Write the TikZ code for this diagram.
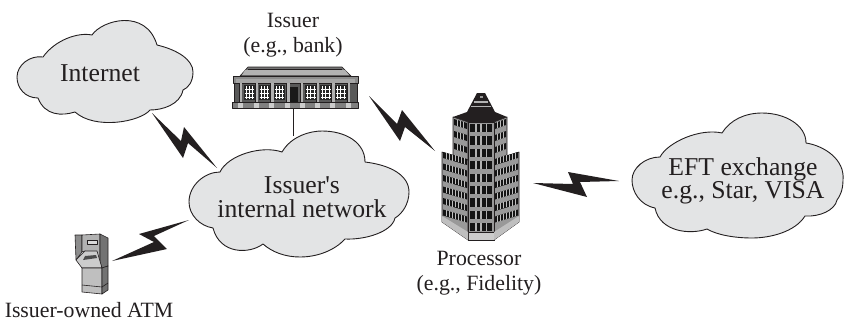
\documentclass[tikz,border=0pt]{standalone}
\usepackage{fontspec}
\setmainfont{Liberation Serif}
\definecolor{cloudgray}{HTML}{E3E4E5}
\definecolor{inkblack}{HTML}{231F20}
\tikzset{
  cloudshape/.style={draw=inkblack,fill=cloudgray,line width=0.9pt,line join=round},
  boltshape/.style={fill=inkblack,draw=none},
  biglabel/.style={text=inkblack,align=center,inner sep=0pt,font=\fontsize{25.7}{23.5}\selectfont},
  smalllabel/.style={text=inkblack,align=center,inner sep=0pt,font=\fontsize{21.8}{25}\selectfont},
  iconline/.style={draw=inkblack,line width=0.6pt,line join=round},
  link/.style={draw=inkblack,line width=0.8pt}
}
\begin{document}
\begin{tikzpicture}[x=1pt,y=-1pt]
\useasboundingbox (0,0) rectangle (846,324);
% line from bank to internal network
\coordinate (bankbase) at (293,106);
\coordinate (netedge) at (293,136);
\draw[link] (bankbase) -- (netedge);
% clouds
\draw[cloudshape] (43,57) .. controls (55,40) and (78,32) .. (92,35)
  .. controls (102,20) and (146,8) .. (157,45)
  .. controls (178,50) and (193,60) .. (193,72)
  .. controls (193,82) and (188,88) .. (183,90)
  .. controls (180,105) and (162,110) .. (150,110)
  .. controls (140,122) and (95,130) .. (75,112)
  .. controls (62,116) and (45,116) .. (38,98)
  .. controls (25,98) and (17,88) .. (17,77)
  .. controls (17,65) and (30,55) .. (43,57) -- cycle;
\draw[cloudshape] (220,172) .. controls (228,155) and (262,145) .. (282,152)
  .. controls (292,135) and (312,131) .. (322,131)
  .. controls (345,131) and (365,142) .. (365,162)
  .. controls (390,165) and (409,175) .. (409,192)
  .. controls (409,204) and (402,214) .. (395,218)
  .. controls (392,232) and (365,240) .. (345,239)
  .. controls (335,250) and (318,257) .. (300,257)
  .. controls (285,257) and (272,252) .. (263,244)
  .. controls (250,254) and (220,255) .. (213,228)
  .. controls (200,226) and (189,215) .. (189,202)
  .. controls (189,185) and (205,172) .. (220,172) -- cycle;
\draw[cloudshape] (660,157) .. controls (668,142) and (700,128) .. (722,133)
  .. controls (730,120) and (745,113) .. (762,113)
  .. controls (785,113) and (806,125) .. (806,143)
  .. controls (825,146) and (845,160) .. (843,180)
  .. controls (843,190) and (840,196) .. (837,200)
  .. controls (835,210) and (820,217) .. (805,216)
  .. controls (795,232) and (770,238) .. (752,238)
  .. controls (735,238) and (717,235) .. (707,229)
  .. controls (690,235) and (660,232) .. (655,208)
  .. controls (640,205) and (632,192) .. (632,180)
  .. controls (632,168) and (645,157) .. (660,157) -- cycle;
% lightning bolts
\fill[boltshape] (152,113) -- (181,141) -- (184,127) -- (217,168) -- (188,143) -- (183,158) -- cycle;
\fill[boltshape] (369,96) -- (397,124) -- (402,110) -- (435,151) -- (405,127) -- (400,141) -- cycle;
\fill[boltshape] (112,261) -- (154,242) -- (139,234) -- (189,220) -- (154,236) -- (167,249) -- cycle;
\fill[boltshape] (533,183) -- (573,184) -- (568,172) -- (619,181) -- (580,182) -- (587,197) -- cycle;
% bank
\fill[black!55,iconline] (248,67) -- (342,67) -- (351,76) -- (240,76) -- cycle;
\fill[black!30] (245,70) -- (345,70) -- (349,75) -- (242,75) -- cycle;
\draw[iconline] (248,69) -- (342,69);
\fill[black!45,iconline] (233,76) rectangle (358,83);
\fill[black!65,iconline] (234,83) rectangle (357,103);
\fill[black!35] (236,79) rectangle (355,83);
\foreach \wx in {243.5,258.5,273.5,305,320,335}{
  \fill[black!85] (\wx,85) rectangle ++(11.5,15);
  \foreach \gx in {2.5,5.7,8.9}{\draw[white,line width=0.7pt] (\wx+\gx,86) -- (\wx+\gx,99);}
  \foreach \gy in {89,93,97}{\draw[white,line width=0.7pt] (\wx+1,\gy) -- (\wx+10.5,\gy);}
}
\fill[black!90] (290,87) rectangle (298,103);
\foreach \px in {239,255,270.5,286.5,300,316,331.5,347}{
  \fill[black!30] (\px,83) rectangle ++(3,20);
  \draw[inkblack,line width=0.4pt] (\px,83) -- ++(0,20);
}
\fill[black!50,iconline] (232,102) rectangle (358,108);
\foreach \px in {238,253.5,269,285,299.5,315,330,346}{
  \fill[black!20] (\px,102.5) rectangle ++(5,5);
}
% tower
\fill[black!40,iconline] (442,152) -- (468,160) -- (468,240) -- (442,222) -- cycle;
\fill[black!40,iconline] (494,160) -- (519,152) -- (519,222) -- (494,240) -- cycle;
\fill[black!40,iconline] (453,117) -- (468,122) -- (468,160) -- (453,155) -- cycle;
\fill[black!40,iconline] (507,117) -- (494,122) -- (494,160) -- (507,155) -- cycle;
\fill[black!40,iconline] (468,122) rectangle (494,240);
\fill[black!20,iconline] (468,232) -- (494,232) -- (494,240) -- (468,240) -- cycle;
\fill[black!25] (442,216) -- (468,232) -- (468,240) -- (442,222) -- cycle;
\fill[black!25] (519,216) -- (494,232) -- (494,240) -- (519,222) -- cycle;
\foreach \k in {0,...,8}{
  \pgfmathsetmacro{\ry}{124+12.4*\k}
  \fill[black!92] (470,\ry) rectangle (492,\ry+8.2);
  \foreach \gx in {475,480.3,485.6}{\fill[black!30] (\gx,\ry) rectangle ++(1.6,8.2);}
}
% side window rows
\foreach \k in {0,...,5}{
  \pgfmathsetmacro{\ry}{152+11.5*\k}
  \fill[black!92] (443,\ry) -- (467,\ry+7) -- (467,\ry+13) -- (443,\ry+6) -- cycle;
  \fill[black!92] (518,\ry) -- (495,\ry+7) -- (495,\ry+13) -- (518,\ry+6) -- cycle;
  \foreach \d in {3,6,...,21}{
    \draw[black!25,line width=0.8pt] (443+\d,\ry+\d*0.29) -- ++(0,6);
    \draw[black!25,line width=0.8pt] (518-\d,\ry+\d*0.29) -- ++(0,6);
  }
}
\foreach \k in {0,1,2}{
  \pgfmathsetmacro{\ry}{119+12*\k}
  \fill[black!92] (454,\ry) -- (467,\ry+4) -- (467,\ry+10) -- (454,\ry+6) -- cycle;
  \fill[black!92] (506,\ry) -- (495,\ry+4) -- (495,\ry+10) -- (506,\ry+6) -- cycle;
  \foreach \d in {3,6,9}{
    \draw[black!25,line width=0.8pt] (454+\d,\ry+\d*0.3) -- ++(0,6);
    \draw[black!25,line width=0.8pt] (506-\d,\ry+\d*0.3) -- ++(0,6);
  }
}
\fill[inkblack] (477,93) -- (485,93) -- (495,112) -- (507,117) -- (494,122) -- (468,122) -- (453,117) -- (467,112) -- cycle;
\fill[black!40] (479.5,95.5) rectangle (482.5,98);
\fill[black!30] (474,100.5) rectangle (488,102.5);
\fill[black!30] (471,105.5) rectangle (491,107);
% ATM
\fill[black!45,iconline] (75,235) -- (82,235) -- (82,252) -- (76,260) -- cycle;
\fill[black!30,iconline] (82,235) -- (100,234) -- (100,262) -- (85,251) -- (82,252) -- cycle;
\fill[black!55,iconline] (100,234) -- (108,238) -- (108,266) -- (102,268) -- (100,262) -- cycle;
\fill[black!20,iconline] (76,260) -- (85,251) -- (97,251) -- (102,268) -- (82,268) -- cycle;
\fill[black!70] (85,256) -- (96,255) -- (97,258) -- (83,260) -- cycle;
\fill[black!25,iconline] (82,268) -- (102,268) -- (102,294) -- (82,292) -- cycle;
\fill[black!55,iconline] (102,268) -- (108,266) -- (108,290) -- (102,294) -- cycle;
\draw[iconline] (82,285) -- (102,287) -- (108,283);
\fill[black!15,iconline] (87,240) rectangle (97,244);
% labels
\node[biglabel] (internet) at (100,73) {Internet};
\node[biglabel] (network) at (302,197) {Issuer\textquotesingle s\\internal network};
\node[biglabel] (eft) at (743,181) {EFT exchange\\e.g., Star, VISA};
\node[smalllabel] (issuer) at (293,35) {Issuer\\(e.g., bank)};
\node[smalllabel] (processor) at (479,273) {Processor\\(e.g., Fidelity)};
\node[smalllabel,anchor=base] (atm) at (89,317) {Issuer-owned ATM};
\end{tikzpicture}
\end{document}
